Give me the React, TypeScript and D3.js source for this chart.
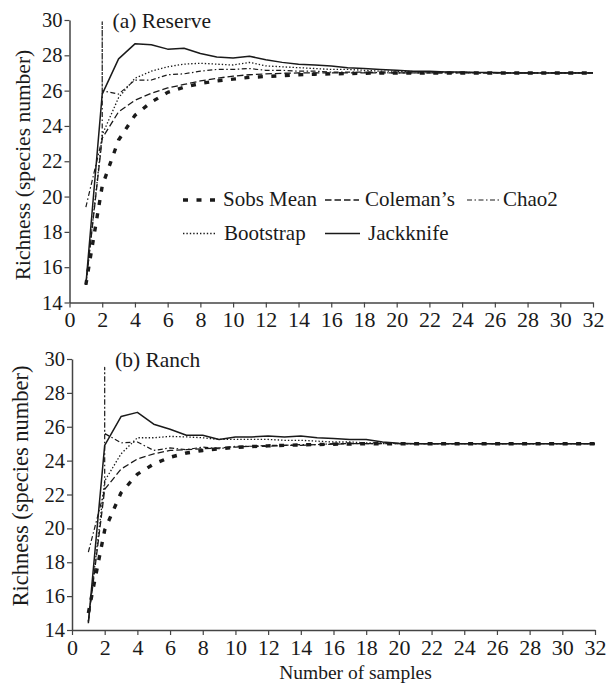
import React, { useEffect, useRef } from 'react';
import * as d3 from 'd3';

// sample number (x axis)
const samples = [1, 2, 3, 4, 5, 6, 7, 8, 9, 10, 11, 12, 13, 14, 15, 16,
  17, 18, 19, 20, 21, 22, 23, 24, 25, 26, 27, 28, 29, 30, 31, 32];

const xTicks = [0, 2, 4, 6, 8, 10, 12, 14, 16, 18, 20, 22, 24, 26, 28, 30, 32];
const yTicks = [14, 16, 18, 20, 22, 24, 26, 28, 30];

// (a) Reserve
const reserveSobs = [15, 20.6, 23.2, 24.6, 25.35, 25.9, 26.2, 26.4, 26.55, 26.65, 26.75, 26.8, 26.85, 26.9, 26.93, 26.95,
  26.97, 26.98, 27, 27, 27, 27, 27, 27, 27, 27, 27, 27, 27, 27, 27, 27];
const reserveColeman = [15, 23.3, 24.8, 25.45, 25.85, 26.15, 26.35, 26.55, 26.7, 26.82, 26.9, 26.95, 26.98, 27, 27, 27,
  27, 27, 27, 27, 27, 27, 27, 27, 27, 27, 27, 27, 27, 27, 27, 27];
const reserveChao2 = [19.4, 26.0, 25.8, 26.6, 26.6, 26.9, 26.95, 27.1, 27.2, 27.2, 27.25, 27.15, 27.15, 27.1, 27.1, 27.05,
  27.05, 27.05, 27.02, 27, 27, 27, 27, 27, 27, 27, 27, 27, 27, 27, 27, 27];
const reserveChao2Spike = [23.3, 29.9]; // values reached at sample 2 before settling
const reserveBootstrap = [15, 23.5, 25.6, 26.7, 27.1, 27.35, 27.5, 27.55, 27.5, 27.45, 27.6, 27.4, 27.35, 27.3, 27.25, 27.2,
  27.2, 27.15, 27.1, 27.1, 27.08, 27.05, 27.05, 27.03, 27.02, 27, 27, 27, 27, 27, 27, 27];
const reserveJackknife = [15, 25.8, 27.8, 28.65, 28.6, 28.35, 28.4, 28.1, 27.9, 27.85, 27.95, 27.75, 27.6, 27.5, 27.45, 27.4,
  27.3, 27.25, 27.2, 27.15, 27.1, 27.1, 27.05, 27.05, 27.03, 27.02, 27, 27, 27, 27, 27, 27];

// (b) Ranch
const ranchSobs = [15, 19.9, 22.1, 23.2, 23.8, 24.2, 24.45, 24.6, 24.7, 24.78, 24.83, 24.87, 24.9, 24.93, 24.95, 24.97,
  24.98, 25, 25, 25, 25, 25, 25, 25, 25, 25, 25, 25, 25, 25, 25, 25];
const ranchColeman = [14.5, 22.3, 23.5, 24.1, 24.4, 24.6, 24.65, 24.7, 24.75, 24.8, 24.85, 24.85, 24.9, 24.9, 24.95, 24.97,
  25, 25, 25, 25, 25, 25, 25, 25, 25, 25, 25, 25, 25, 25, 25, 25];
const ranchChao2 = [18.6, 25.6, 25.05, 25.1, 24.6, 24.75, 24.65, 24.8, 24.7, 24.85, 24.85, 24.9, 24.9, 24.95, 24.95, 25,
  25, 25, 25, 25, 25, 25, 25, 25, 25, 25, 25, 25, 25, 25, 25, 25];
const ranchChao2Spike = [22.3, 29.5];
const ranchBootstrap = [14.5, 22.8, 24.4, 25.35, 25.35, 25.43, 25.4, 25.35, 25.25, 25.25, 25.25, 25.25, 25.2, 25.2, 25.15, 25.1,
  25.1, 25.05, 25.05, 25, 25, 25, 25, 25, 25, 25, 25, 25, 25, 25, 25, 25];
const ranchJackknife = [14.4, 24.9, 26.6, 26.85, 26.15, 25.85, 25.5, 25.5, 25.25, 25.4, 25.4, 25.45, 25.4, 25.45, 25.35, 25.3,
  25.25, 25.25, 25.1, 25.02, 25, 25, 25, 25, 25, 25, 25, 25, 25, 25, 25, 25];

const FONT = "'Liberation Serif', 'Times New Roman', Times, serif";
const INK = '#1a1a1a';

const lineStyle = {
  sobs: { width: 3.4, dash: '5,8.5' },
  coleman: { width: 1.3, dash: '6.5,3' },
  chao2: { width: 1.2, dash: '5,2.5,1.5,2.5' },
  bootstrap: { width: 1.3, dash: '1.4,2' },
  jackknife: { width: 1.5, dash: null },
};

type Panel = {
  title: string;
  x0: number; x1: number; yTop: number; yBottom: number;
  labelX: number; labelY: number; labelSize: number;
  sobs: number[]; coleman: number[]; chao2: number[]; spike: number[];
  bootstrap: number[]; jackknife: number[];
  legend: boolean;
};

const panels: Panel[] = [
  {
    title: '(a) Reserve', x0: 69.5, x1: 593, yTop: 20, yBottom: 302.5,
    labelX: 30, labelY: 165, labelSize: 21.5,
    sobs: reserveSobs, coleman: reserveColeman, chao2: reserveChao2, spike: reserveChao2Spike,
    bootstrap: reserveBootstrap, jackknife: reserveJackknife, legend: true,
  },
  {
    title: '(b) Ranch', x0: 72, x1: 595, yTop: 359, yBottom: 630,
    labelX: 28, labelY: 486, labelSize: 22.5,
    sobs: ranchSobs, coleman: ranchColeman, chao2: ranchChao2, spike: ranchChao2Spike,
    bootstrap: ranchBootstrap, jackknife: ranchJackknife, legend: false,
  },
];

const App = () => {
  const svgRef = useRef<SVGSVGElement>(null);

  useEffect(() => {
    const svg = d3.select(svgRef.current);
    svg.selectAll('*').remove();

    panels.forEach((p, pi) => {
      const x = d3.scaleLinear().domain([0, 32]).range([p.x0, p.x1]);
      const y = d3.scaleLinear().domain([14, 30]).range([p.yBottom, p.yTop]);
      const g = svg.append('g');

      const line = d3.line<[number, number]>()
        .x(d => x(d[0]))
        .y(d => y(d[1]));

      const pts = (vals: number[]) => vals.map((v, i) => [samples[i], v] as [number, number]);
      const chaoPts = p.chao2.flatMap((v, i) => samples[i] === 2
        ? [...p.spike.map(s => [2, s] as [number, number]), [2, v] as [number, number]]
        : [[samples[i], v] as [number, number]]);

      const series = [
        { d: pts(p.jackknife), s: lineStyle.jackknife },
        { d: pts(p.bootstrap), s: lineStyle.bootstrap },
        { d: chaoPts, s: lineStyle.chao2 },
        { d: pts(p.coleman), s: lineStyle.coleman },
        { d: pts(p.sobs), s: lineStyle.sobs },
      ];

      series.forEach(({ d, s }) => {
        g.append('path')
          .attr('d', line(d))
          .attr('fill', 'none')
          .attr('stroke', INK)
          .attr('stroke-width', s.width)
          .attr('stroke-dasharray', s.dash)
          .attr('stroke-linejoin', 'round');
      });

      // axes
      const yAxis = g.append('g')
        .attr('transform', `translate(${p.x0},0)`)
        .call(d3.axisLeft(y).tickValues(yTicks).tickSize(5).tickSizeOuter(0).tickPadding(2));
      yAxis.selectAll('text').attr('font-size', 20.5);

      const xAxis = g.append('g')
        .attr('transform', `translate(0,${p.yBottom})`)
        .call(d3.axisBottom(x).tickValues(xTicks).tickSize(5).tickSizeOuter(0).tickPadding(4));
      xAxis.selectAll('text').attr('font-size', 22);

      [yAxis, xAxis].forEach(a => {
        a.attr('font-family', null);
        a.selectAll('text').attr('fill', INK).style('font-family', FONT);
        a.selectAll('line').attr('stroke', '#444').attr('stroke-width', 1.2);
        a.select('.domain').attr('stroke', '#444').attr('stroke-width', 1.5);
      });

      g.append('text')
        .attr('x', p.x0 + 43)
        .attr('y', p.yTop + 8)
        .style('font-family', FONT)
        .attr('font-size', 21.5)
        .attr('fill', INK)
        .text(p.title);

      g.append('text')
        .attr('transform', `translate(${p.labelX},${p.labelY}) rotate(-90)`)
        .attr('text-anchor', 'middle')
        .style('font-family', FONT)
        .attr('font-size', p.labelSize)
        .attr('fill', INK)
        .text('Richness (species number)');

      if (p.legend) {
        const items = [
          { label: 'Sobs Mean', s: lineStyle.sobs, lx: 183, len: 34, tx: 223, row: 0 },
          { label: 'Coleman\u2019s', s: lineStyle.coleman, lx: 325, len: 34, tx: 365, row: 0 },
          { label: 'Chao2', s: lineStyle.chao2, lx: 467, len: 32, tx: 503, row: 0 },
          { label: 'Bootstrap', s: lineStyle.bootstrap, lx: 183, len: 33, tx: 224, row: 1 },
          { label: 'Jackknife', s: lineStyle.jackknife, lx: 325, len: 35, tx: 368, row: 1 },
        ];
        const lg = g.append('g');
        items.forEach(it => {
          const base = 206 + it.row * 33.5;
          lg.append('line')
            .attr('x1', it.lx).attr('x2', it.lx + it.len)
            .attr('y1', base - 6).attr('y2', base - 6)
            .attr('stroke', INK)
            .attr('stroke-width', it.s.width)
            .attr('stroke-dasharray', it.s.dash);
          lg.append('text')
            .attr('x', it.tx).attr('y', base)
            .style('font-family', FONT)
            .attr('font-size', 21)
            .attr('fill', INK)
            .text(it.label);
        });
      }

      if (pi === panels.length - 1) {
        g.append('text')
          .attr('x', (p.x0 + p.x1) / 2 + 22)
          .attr('y', 679)
          .attr('text-anchor', 'middle')
          .style('font-family', FONT)
          .attr('font-size', 19.5)
          .attr('fill', INK)
          .text('Number of samples');
      }
    });
  }, []);

  return (
    <svg ref={svgRef} width={606} height={686}
      style={{ position: 'absolute', left: 0, top: 0, background: '#fff' }} />
  );
};

export default App;
